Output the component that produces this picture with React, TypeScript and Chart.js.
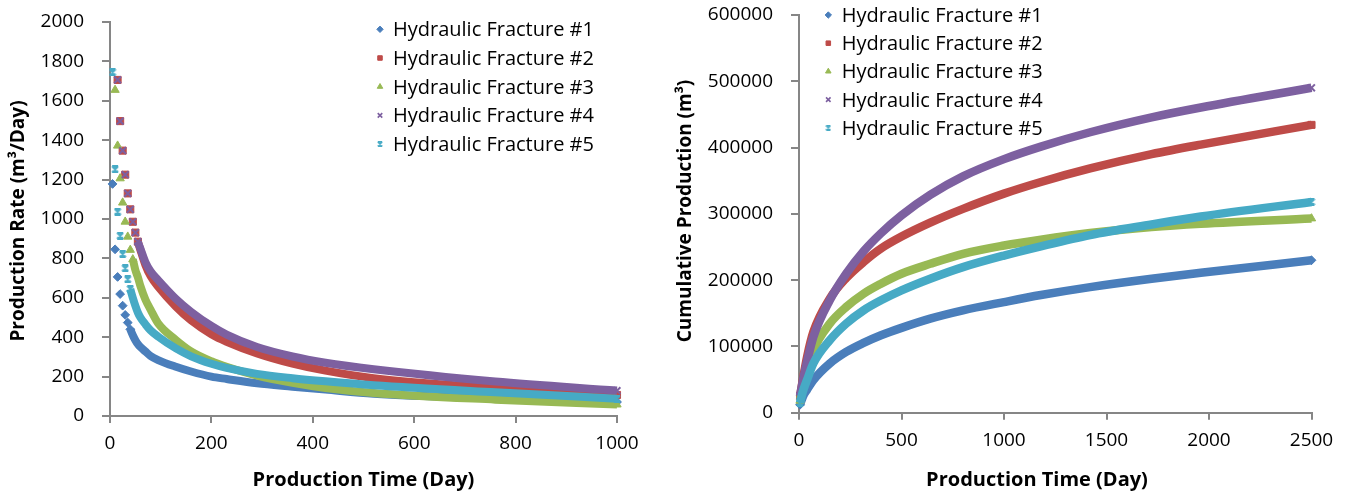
import React, { useEffect, useRef } from 'react';
import { Chart, registerables } from 'chart.js';
import { drawPoint } from 'chart.js/helpers';

Chart.register(...registerables);

// ---------- data ----------
const seriesNames = [
  'Hydraulic Fracture #1',
  'Hydraulic Fracture #2',
  'Hydraulic Fracture #3',
  'Hydraulic Fracture #4',
  'Hydraulic Fracture #5',
];

// Left panel: production rate (m3/day) vs production time (day)
const rateDays = [5, 10, 15, 20, 25, 30, 35, 40, 45, 50, 55, 60, 70, 80, 95, 130, 160, 200, 230, 290, 360, 425, 520, 760, 1000];
const rateHF1 = [1178, 846, 706, 619, 560, 513, 474, 440, 410, 385, 365, 350, 327, 305, 284, 250, 226, 200, 188, 166, 149, 134, 113, 89, 71];
const rateHF2 = [null, null, 1706, 1497, 1347, 1225, 1130, 1049, 986, 931, 885, 843, 765, 710, 656, 555, 485, 415, 377, 318, 266, 230, 192, 143, 107];
const rateHF3 = [null, 1655, 1372, 1206, 1083, 986, 910, 843, 795, 741, 704, 660, 590, 540, 470, 386, 328, 278, 250, 205, 168, 142, 117, 83, 58];
const rateHF4 = [null, null, 1706, 1497, 1347, 1225, 1130, 1049, 986, 931, 885, 850, 780, 735, 690, 595, 529, 457, 413, 350, 302, 270, 237, 175, 129];
const rateHF5 = [1745, 1252, 1037, 915, 822, 750, 694, 645, 600, 560, 525, 500, 465, 435, 403, 343, 303, 265, 244, 214, 192, 176, 156, 120, 88];

// Right panel: cumulative production (m3) vs production time (day)
const cumDays = [5, 20, 40, 70, 150, 230, 315, 400, 500, 640, 800, 1000, 1180, 1420, 1720, 1960, 2500];
const cumHF1 = [12000, 25000, 35000, 49200, 74300, 91700, 105300, 116800, 128000, 141900, 154400, 166900, 177500, 189500, 202100, 211000, 230000];
const cumHF2 = [25000, 52000, 85000, 121800, 172000, 203000, 227300, 247700, 265700, 286700, 307500, 330500, 348100, 368500, 390100, 404500, 434200];
const cumHF3 = [18000, 42000, 65000, 94300, 134400, 159400, 179500, 194600, 209600, 224600, 239700, 252200, 261000, 271000, 280000, 285000, 293000];
const cumHF4 = [25000, 50000, 78000, 114300, 169500, 209600, 243600, 270800, 297800, 328600, 356600, 382600, 401500, 423100, 445600, 460500, 490200];
const cumHF5 = [15000, 33000, 50000, 74300, 109300, 134400, 154400, 169500, 184500, 202100, 219600, 237100, 251000, 268000, 284000, 296000, 318000];

// axis ranges / tick steps
const rateXAxis = { min: 0, max: 1000, step: 200 };
const rateYAxis = { min: 0, max: 2000, step: 200 };
const cumXAxis = { min: 0, max: 2500, step: 500 };
const cumYAxis = { min: 0, max: 600000, step: 100000 };

// axis titles
const rateXTitle = 'Production Time (Day)';
const rateYTitle = 'Production Rate (m³/Day)';
const cumXTitle = 'Production Time (Day)';
const cumYTitle = 'Cumulative Production (m³)';

// ---------- style ----------
const FONT = "'Open Sans', sans-serif";
const colors = ['#4A7EBB', '#BE4B48', '#98B954', '#7D60A0', '#46AAC5'];
const AXIS_COLOR = '#868686';
const rateLineStart = [40, 55, 45, 55, 40];

function makeHourglass(size: number, color: string, lw: number) {
  const c = document.createElement('canvas');
  c.width = size;
  c.height = size;
  const g = c.getContext('2d')!;
  g.strokeStyle = color;
  g.lineWidth = lw;
  const a = lw / 2;
  const b = size - lw / 2;
  g.beginPath();
  g.moveTo(a, a); g.lineTo(b, b);
  g.moveTo(b, a); g.lineTo(a, b);
  g.moveTo(a, a); g.lineTo(b, a);
  g.moveTo(a, b); g.lineTo(b, b);
  g.stroke();
  return c;
}

function buildDatasets(days: number[], series: (number | null)[][], lineStart: number[] | null, width: number) {
  const styles: any[] = ['rectRot', 'rect', 'triangle', 'crossRot', makeHourglass(8, colors[4], 2)];
  const radii = [4.4, 5, 4.8, 4.8, 4];
  return series.map((vals, i) => {
    const color = colors[i];
    const start = lineStart ? lineStart[i] : 0;
    const pts = days
      .map((d, k) => ({ x: d, y: vals[k] }))
      .filter((p) => p.y !== null && p.y !== undefined);
    const lastX = pts[pts.length - 1].x;
    const firstX = pts[0].x;
    return {
      label: seriesNames[i],
      data: pts,
      borderColor: color,
      backgroundColor: color,
      borderWidth: width,
      pointStyle: styles[i],
      pointRadius: (c: any) => {
        const x = c.raw ? c.raw.x : 0;
        return x <= start || x === lastX || x === firstX ? radii[i] : 0;
      },
      pointBackgroundColor: color,
      pointBorderColor: color,
      pointBorderWidth: i === 3 ? 2 : 1,
      cubicInterpolationMode: 'monotone',
      showLine: true,
      fill: false,
      clip: false,
      order: 4 - i,
      segment: {
        borderColor: (c: any) => (c.p0.parsed.x < start ? 'rgba(0,0,0,0)' : color),
      },
    };
  });
}

function legendPlugin(markerX: number, textX: number, firstY: number, stepY: number) {
  return {
    id: 'sideLegend',
    afterDraw(chart: any) {
      const ctx = chart.ctx;
      const legendStyles: any[] = ['rectRot', 'rect', 'triangle', 'crossRot', makeHourglass(6, colors[4], 1.6)];
      ctx.save();
      chart.data.datasets.forEach((ds: any, i: number) => {
        const y = firstY + i * stepY;
        ctx.fillStyle = colors[i];
        ctx.strokeStyle = colors[i];
        ctx.lineWidth = i === 3 ? 1.6 : 1;
        drawPoint(ctx, { pointStyle: legendStyles[i], radius: 3.2, borderWidth: ctx.lineWidth, rotation: 0 } as any, markerX, y);
        ctx.fillStyle = '#000';
        ctx.font = `20px ${FONT}`;
        ctx.textBaseline = 'alphabetic';
        ctx.textAlign = 'left';
        ctx.fillText(ds.label, textX, y + 7);
      });
      ctx.restore();
    },
  };
}

function titlePlugin(xTitle: string, xc: number, xy: number, yTitle: string, yx: number, yc: number) {
  return {
    id: 'axisTitles',
    afterDraw(chart: any) {
      const ctx = chart.ctx;
      ctx.save();
      ctx.fillStyle = '#000';
      ctx.textAlign = 'center';
      ctx.textBaseline = 'middle';
      ctx.font = `bold 20px ${FONT}`;
      ctx.fillText(xTitle, xc, xy);
      ctx.translate(yx, yc);
      ctx.rotate(-Math.PI / 2);
      ctx.font = `bold 19px ${FONT}`;
      ctx.fillText(yTitle, 0, 0);
      ctx.restore();
    },
  };
}

function scaleOptions(axis: { min: number; max: number; step: number }, horizontal: boolean, size: number) {
  return {
    type: 'linear',
    min: axis.min,
    max: axis.max,
    ticks: {
      stepSize: axis.step,
      color: '#000',
      font: { family: FONT, size: 19 },
      padding: horizontal ? 9 : 18,
      maxRotation: 0,
      autoSkip: false,
      callback: (v: any) => String(v),
    },
    grid: {
      drawOnChartArea: false,
      drawTicks: true,
      tickLength: horizontal ? 7 : 8,
      color: AXIS_COLOR,
      lineWidth: 2,
    },
    border: { display: true, color: AXIS_COLOR, width: 2 },
    title: { display: false },
    afterFit: (s: any) => {
      if (horizontal) {
        s.height = size;
        s.paddingLeft = 0;
        s.paddingRight = 0;
      } else {
        s.width = size;
        s.paddingTop = 0;
        s.paddingBottom = 0;
      }
    },
  };
}

function rateConfig(): any {
  return {
    type: 'line',
    data: { datasets: buildDatasets(rateDays, [rateHF1, rateHF2, rateHF3, rateHF4, rateHF5], rateLineStart, 8) },
    options: {
      responsive: false,
      animation: false,
      events: [],
      layout: { padding: { left: 0, right: 43, top: 22, bottom: 0 } },
      plugins: { legend: { display: false }, tooltip: { enabled: false } },
      scales: {
        x: scaleOptions(rateXAxis, true, 83),
        y: scaleOptions(rateYAxis, false, 110),
      },
    },
    plugins: [legendPlugin(380, 393, 29.3, 28.7), titlePlugin(rateXTitle, 363.5, 480, rateYTitle, 19, 221)],
  };
}

function cumConfig(): any {
  return {
    type: 'line',
    data: { datasets: buildDatasets(cumDays, [cumHF1, cumHF2, cumHF3, cumHF4, cumHF5], null, 8.5) },
    options: {
      responsive: false,
      animation: false,
      events: [],
      layout: { padding: { left: 0, right: 42.5, top: 15, bottom: 0 } },
      plugins: { legend: { display: false }, tooltip: { enabled: false } },
      scales: {
        x: scaleOptions(cumXAxis, true, 86.3),
        y: scaleOptions(cumYAxis, false, 139),
      },
    },
    plugins: [legendPlugin(168.3, 181.7, 15, 28.2), titlePlugin(cumXTitle, 377, 480, cumYTitle, 25.5, 211)],
  };
}

function Panel({ make, left, width }: { make: () => any; left: number; width: number }) {
  const ref = useRef<HTMLCanvasElement>(null);
  useEffect(() => {
    const chart = new Chart(ref.current!, make());
    return () => chart.destroy();
  }, []);
  return (
    <canvas
      ref={ref}
      width={width}
      height={499}
      style={{ position: 'absolute', left, top: 0, width, height: 499 }}
    />
  );
}

export default function App() {
  return (
    <div style={{ position: 'fixed', left: 0, top: 0, width: 1354, height: 499, background: '#fff', overflow: 'hidden' }}>
      <Panel make={rateConfig} left={0} width={660} />
      <Panel make={cumConfig} left={660} width={694} />
    </div>
  );
}
